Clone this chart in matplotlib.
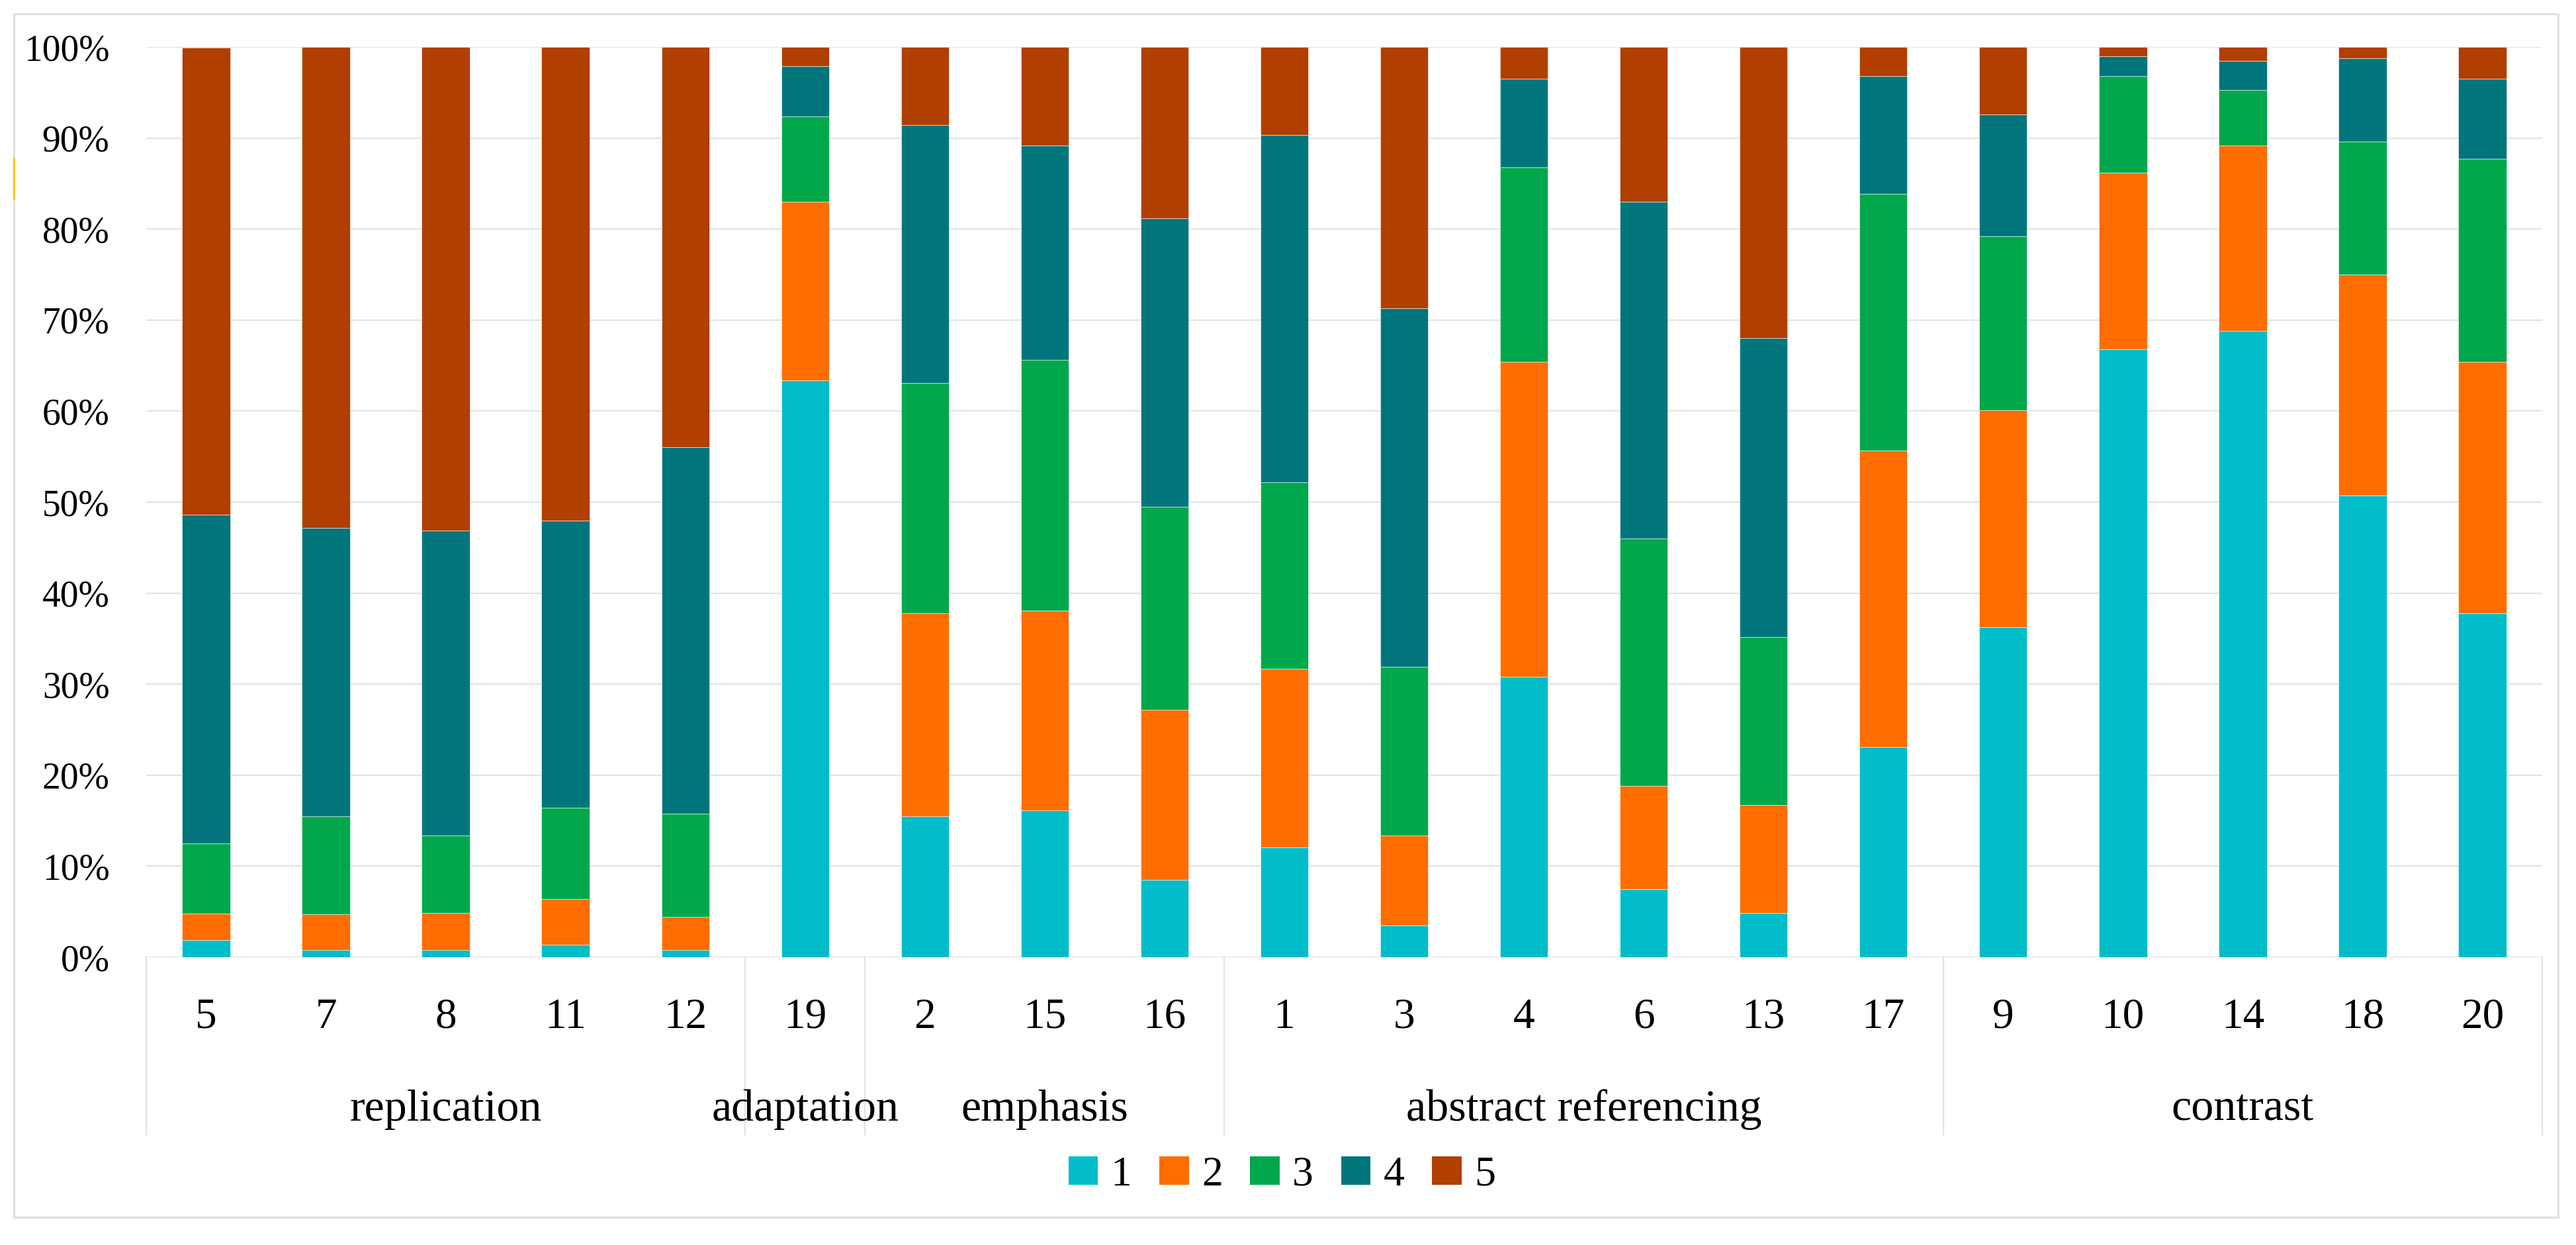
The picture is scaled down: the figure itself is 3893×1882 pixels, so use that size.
import matplotlib
matplotlib.use("Agg")
import matplotlib.pyplot as plt
import numpy as np
from matplotlib.patches import Patch, Rectangle
from matplotlib.lines import Line2D
import matplotlib.transforms as mtransforms

# categories along the x axis, grouped by function
categories = ['5', '7', '8', '11', '12', '19', '2', '15', '16',
              '1', '3', '4', '6', '13', '17', '9', '10', '14', '18', '20']
group_names = ['replication', 'adaptation', 'emphasis', 'abstract referencing', 'contrast']
group_sizes = [5, 1, 3, 6, 5]

# share of each rating (percent), one list per rating
rating_1 = [1.9, 0.8, 0.8, 1.4, 0.8, 63.4, 15.5, 16.1, 8.5, 12.1,
            3.5, 30.8, 7.5, 4.9, 23.1, 36.3, 66.8, 68.8, 50.7, 37.8]
rating_2 = [2.9, 3.9, 4.1, 5.0, 3.6, 19.6, 22.3, 22.0, 18.7, 19.6,
            9.9, 34.6, 11.3, 11.8, 32.6, 23.8, 19.4, 20.4, 24.3, 27.6]
rating_3 = [7.7, 10.8, 8.5, 10.0, 11.4, 9.4, 25.3, 27.5, 22.3, 20.5,
            18.5, 21.4, 27.2, 18.5, 28.2, 19.1, 10.6, 6.1, 14.6, 22.3]
rating_4 = [36.1, 31.7, 33.5, 31.6, 40.2, 5.5, 28.3, 23.6, 31.7, 38.1,
            39.4, 9.7, 37.0, 32.8, 12.9, 13.4, 2.2, 3.2, 9.2, 8.8]
rating_5 = [51.3, 52.8, 53.1, 52.0, 44.0, 2.1, 8.6, 10.8, 18.8, 9.7,
            28.7, 3.5, 17.0, 32.0, 3.2, 7.4, 1.0, 1.5, 1.2, 3.5]

series = [rating_1, rating_2, rating_3, rating_4, rating_5]
labels = ['1', '2', '3', '4', '5']
colors = ['#00BDC9', '#FF6D00', '#00A84B', '#00767C', '#B03F00']

plt.rcParams['font.family'] = ['Liberation Serif', 'DejaVu Serif']

W, H = 3893, 1882
fig = plt.figure(figsize=(W / 100, H / 100), dpi=100)

# outer frame
fig.patches.append(Rectangle((21 / W, 1 - 1840 / H), (3866 - 21) / W, (1840 - 21) / H,
                             transform=fig.transFigure, fill=False,
                             edgecolor='#DCDCDC', linewidth=2))
fig.lines.append(Line2D([21 / W, 21 / W], [1 - 240 / H, 1 - 300 / H],
                        transform=fig.transFigure, color='#FFC000', linewidth=2))

ax_left, ax_right = 221 / W, 3842 / W
ax_bottom, ax_top = 1 - 1447 / H, 1 - 71 / H
ax = fig.add_axes([ax_left, ax_bottom, ax_right - ax_left, ax_top - ax_bottom])

x = np.arange(len(categories))
bottom = np.zeros(len(categories))
for vals, lab, col in zip(series, labels, colors):
    v = np.array(vals) / 100
    ax.bar(x, v, 0.4, bottom=bottom, color=col, label=lab,
           edgecolor='white', linewidth=0.4, zorder=3)
    bottom += v

ax.set_xlim(-0.5, len(categories) - 0.5)
ax.set_ylim(0, 1)
ax.set_yticks(np.arange(0, 1.01, 0.1))
ax.set_yticklabels([f'{int(round(t * 100))}%' for t in np.arange(0, 1.01, 0.1)], fontsize=40)
ax.tick_params(axis='y', length=0, pad=40)
ax.set_xticks([])
ax.grid(axis='y', color='#E3E3E3', linewidth=1.6, zorder=0)
for s in ax.spines.values():
    s.set_visible(False)

# multi-level category axis
trans = mtransforms.blended_transform_factory(ax.transData, fig.transFigure)
for xi, c in zip(x, categories):
    ax.text(xi, 1 - 1538 / H, c, transform=trans, ha='center', va='center', fontsize=47)

sep_bottom = -(1715 - 1447) / (1447 - 71)
trans_ax = mtransforms.blended_transform_factory(ax.transData, ax.transAxes)
edges = np.concatenate([[0], np.cumsum(group_sizes)]) - 0.5
for e in edges:
    ax.plot([e, e], [0, sep_bottom], transform=trans_ax, color='#E3E3E3',
            linewidth=1.6, clip_on=False)
for name, start, size in zip(group_names, edges[:-1], group_sizes):
    ax.text(start + size / 2, 1 - 1677 / H, name, transform=trans,
            ha='center', va='center', fontsize=49)

handles = [Patch(facecolor=c, edgecolor='none', label=l) for c, l in zip(colors, labels)]
fig.legend(handles=handles, loc='center', ncol=5, frameon=False,
           bbox_to_anchor=(0.4976, 1 - 1777 / H), fontsize=46,
           handlelength=0.7, handleheight=0.65, handletextpad=0.3,
           columnspacing=0.65)

fig.savefig('out.png', dpi=100, facecolor='white')
